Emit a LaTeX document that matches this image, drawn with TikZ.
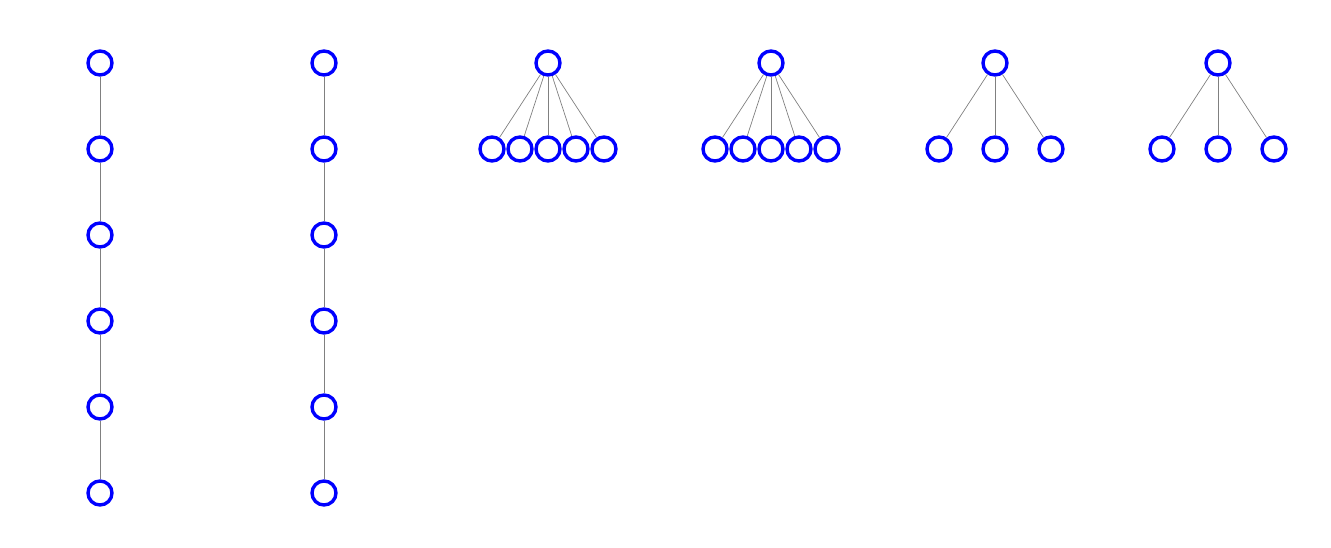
\documentclass[tikz,border=0pt]{standalone}
\begin{document}
\begin{tikzpicture}[x=1pt,y=-1pt,
  vtx/.style={circle,draw=blue,line width=3.4pt,minimum size=24pt,inner sep=0pt},
  edg/.style={draw=gray,line width=0.7pt}]
\useasboundingbox (0,0) rectangle (1331,547);
% chains
\foreach \c/\x in {a/100,b/324}{
  \foreach \i/\y in {1/63,2/149,3/235,4/321,5/407,6/493}{
    \node[vtx] (\c\i) at (\x,\y) {};
  }
  \foreach \i/\j in {1/2,2/3,3/4,4/5,5/6}{
    \draw[edg] (\c\i) -- (\c\j);
  }
}
% five-leaf stars
\foreach \c/\x in {c/548,d/771}{
  \node[vtx] (\c0) at (\x,63) {};
  \foreach \i/\dx in {1/-56,2/-28,3/0,4/28,5/56}{
    \node[vtx] (\c\i) at (\x+\dx,149) {};
    \draw[edg] (\c0) -- (\c\i);
  }
}
% three-leaf stars
\foreach \c/\x in {e/995,f/1218}{
  \node[vtx] (\c0) at (\x,63) {};
  \foreach \i/\dx in {1/-56,2/0,3/56}{
    \node[vtx] (\c\i) at (\x+\dx,149) {};
    \draw[edg] (\c0) -- (\c\i);
  }
}
\end{tikzpicture}
\end{document}
